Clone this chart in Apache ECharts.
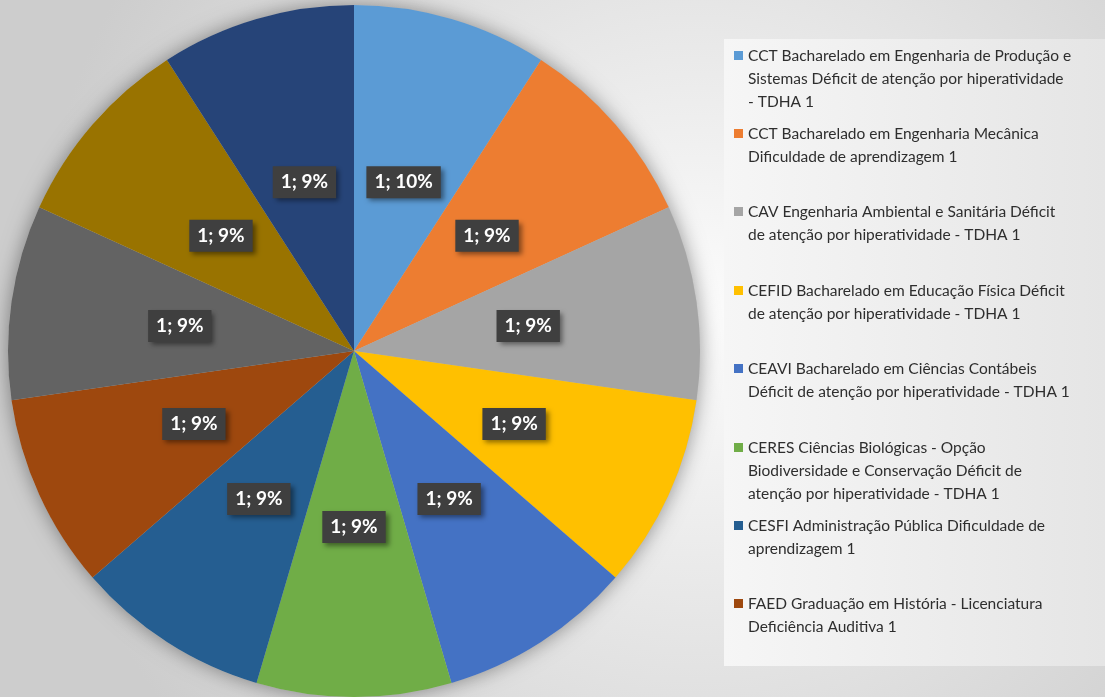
<!DOCTYPE html>
<html>
<head>
<meta charset="utf-8">
<script src="https://cdn.jsdelivr.net/npm/echarts@6/dist/echarts.min.js"></script>
<style>
  html, body { margin: 0; padding: 0; }
  #chart { width: 1105px; height: 697px; }
</style>
</head>
<body>
<div id="chart"></div>
<script>
// legend text, already wrapped as in the original
const legendLines = [
  ['CCT Bacharelado em Engenharia de Produção e', 'Sistemas Déficit de atenção por hiperatividade', '- TDHA 1'],
  ['CCT Bacharelado em Engenharia Mecânica', 'Dificuldade de aprendizagem 1'],
  ['CAV Engenharia Ambiental e Sanitária Déficit', 'de atenção por hiperatividade - TDHA 1'],
  ['CEFID Bacharelado em Educação Física Déficit', 'de atenção por hiperatividade - TDHA 1'],
  ['CEAVI Bacharelado em Ciências Contábeis', 'Déficit de atenção por hiperatividade - TDHA 1'],
  ['CERES Ciências Biológicas - Opção', 'Biodiversidade e Conservação Déficit de', 'atenção por hiperatividade - TDHA 1'],
  ['CESFI Administração Pública Dificuldade de', 'aprendizagem 1'],
  ['FAED Graduação em História - Licenciatura', 'Deficiência Auditiva 1']
];
// the last three categories are on a legend page that is not visible
const hiddenNames = ['Categoria 9', 'Categoria 10', 'Categoria 11'];
const categories = legendLines.map(l => l.join(' ')).concat(hiddenNames);
const values = [1, 1, 1, 1, 1, 1, 1, 1, 1, 1, 1];
const colors = ['#5B9BD5', '#ED7D31', '#A5A5A5', '#FFC000', '#4472C4', '#70AD47',
                '#255E91', '#9E480E', '#636363', '#997300', '#264478'];

const myChart = echarts.init(document.getElementById('chart'));

const lineH = 23;
// one legend per entry so every entry sits in its own slot like in Excel;
// the icon is a small square at the top of a tall, mostly empty symbol
const legends = legendLines.map((lines, i) => {
  const h = lineH * lines.length;
  return {
    data: [categories[i]],
    orient: 'vertical',
    left: 734,
    top: Math.round(55 + i * 78.4 - lineH / 2),
    padding: 0,
    icon: `path://M0,7h9v9h-9z M0,0h0.01v0.01h-0.01z M0,${h - 0.01}h0.01v0.01h-0.01z`,
    itemWidth: 9,
    itemHeight: h,
    selectedMode: false,
    formatter: () => lines.join('\n'),
    textStyle: {
      color: '#2e2e2e',
      fontFamily: 'Lato',
      fontSize: 15.5,
      lineHeight: lineH
    }
  };
});

const option = {
  backgroundColor: new echarts.graphic.RadialGradient(0.63, 0.45, 0.95, [
    { offset: 0, color: '#fcfcfc' },
    { offset: 1, color: '#cdcdcd' }
  ]),
  animation: false,
  color: colors,
  graphic: [{
    type: 'rect',
    z: -1,
    shape: { x: 724, y: 39, width: 381, height: 627 },
    style: {
      fill: new echarts.graphic.LinearGradient(0, 0, 1, 0, [
        { offset: 0, color: '#f6f6f6' },
        { offset: 1, color: '#e5e5e5' }
      ])
    }
  }],
  legend: legends,
  series: [
    {
      // soft shadow under the pie
      type: 'pie',
      silent: true,
      center: [354, 351],
      radius: 346,
      data: [{ value: 1, name: '' }],
      itemStyle: { color: '#bbbbbb', shadowBlur: 20, shadowColor: 'rgba(0,0,0,0.4)' },
      label: { show: false },
      labelLine: { show: false },
      z: 1
    },
    {
      type: 'pie',
      center: [354, 351],
      radius: 346,
      startAngle: 90,
      clockwise: true,
      percentPrecision: 0,
      z: 2,
      data: categories.map((n, i) => ({ name: n, value: values[i] })),
      label: {
        show: true,
        position: 'inside',
        formatter: '{c}; {d}%',
        color: '#ffffff',
        fontFamily: 'Lato',
        fontWeight: 'bold',
        fontSize: 19,
        backgroundColor: '#3f3f3f',
        padding: [7, 8, 6, 8],
        shadowColor: 'rgba(0,0,0,0.45)',
        shadowBlur: 5,
        shadowOffsetX: 3,
        shadowOffsetY: 3
      },
      labelLine: { show: false },
      emphasis: { disabled: true }
    }
  ]
};

myChart.setOption(option);
</script>
</body>
</html>
